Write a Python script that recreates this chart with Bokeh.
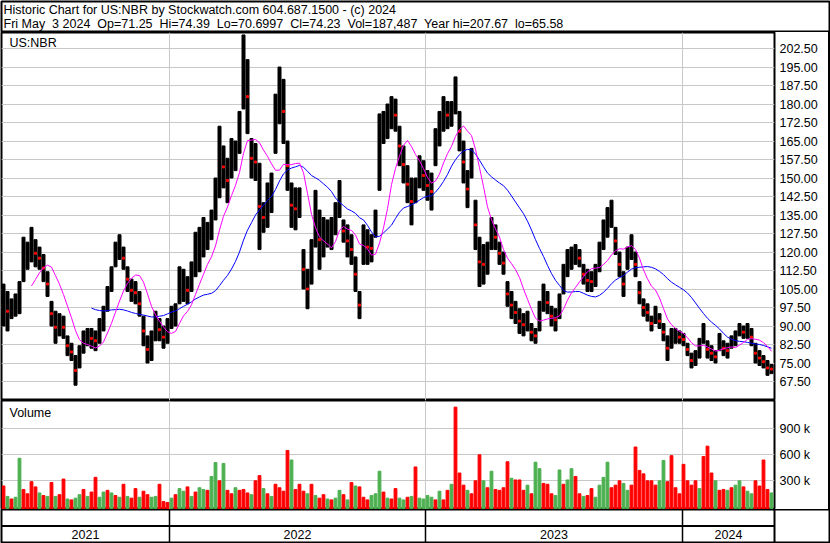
import numpy as np
import pandas as pd
from bokeh.plotting import figure
from bokeh.layouts import column, row
from bokeh.models import Range1d, FixedTicker, PrintfTickFormatter, Label, Div
from bokeh.embed import file_html
from bokeh.resources import INLINE
from bokeh.core.properties import value

# ---------------- data ----------------
header_line_1 = "Historic Chart for US:NBR by Stockwatch.com 604.687.1500 - (c) 2024"
header_line_2 = "Fri May  3 2024  Op=71.25  Hi=74.39  Lo=70.6997  Cl=74.23  Vol=187,487  Year hi=207.67  lo=65.58"
symbol = "US:NBR"
volume_title = "Volume"

# one entry per ~4 trading days, May 2021 .. May 3 2024
high = [107, 104, 101, 103, 108, 126, 124, 130, 125, 122,
        119, 112, 100, 96, 95, 94, 86, 83, 78, 82,
        88, 89, 89, 88, 93, 98, 106, 114, 124, 127,
        122, 114, 109, 108, 104, 94, 86, 88, 96, 93,
        90, 93, 98, 99, 114, 113, 110, 116, 128, 130,
        134, 132, 137, 150, 171, 163, 158, 166, 165, 177,
        208, 198, 166, 164, 156, 140, 148, 152, 184, 195,
        190, 165, 148, 146, 146, 121, 113, 125, 145, 137,
        134, 133, 134, 140, 149, 133, 131, 127, 118, 104,
        131, 129, 127, 137, 176, 177, 180, 183, 182, 171,
        163, 155, 150, 150, 159, 157, 153, 152, 170, 177,
        183, 181, 181, 191, 177, 165, 153, 162, 141, 126,
        123, 124, 134, 131, 124, 120, 108, 104, 100, 97,
        95, 96, 91, 89, 100, 107, 104, 98, 97, 103,
        115, 121, 122, 123, 121, 115, 113, 112, 115, 124,
        133, 138, 141, 130, 120, 112, 122, 127, 120, 108,
        101, 99, 94, 98, 95, 91, 86, 89, 89, 88,
        87, 83, 79, 80, 85, 91, 84, 82, 80, 87,
        84, 83, 86, 88, 91, 90, 91, 89, 83, 80,
        78, 76, 74.39]
low = [90, 88, 93, 94, 95, 108, 113, 116, 114, 113,
       108, 102, 90, 83, 86, 85, 78, 76, 66, 73,
       79, 82, 81, 80, 83, 88, 96, 104, 114, 117,
       113, 104, 100, 99, 94, 82, 75, 76, 84, 84,
       81, 83, 89, 90, 99, 100, 99, 104, 110, 112,
       118, 121, 125, 133, 142, 146, 140, 150, 153, 160,
       178, 168, 150, 149, 121, 128, 130, 136, 160, 172,
       164, 145, 130, 129, 134, 105, 97, 107, 122, 113,
       118, 122, 121, 127, 134, 124, 118, 115, 104, 93,
       115, 115, 116, 126, 145, 164, 166, 170, 169, 155,
       148, 140, 131, 140, 146, 145, 141, 137, 155, 163,
       169, 170, 171, 176, 161, 148, 138, 150, 121, 106,
       107, 111, 121, 121, 115, 111, 98, 93, 91, 87,
       86, 88, 84, 83, 88, 96, 95, 90, 88, 93,
       103, 110, 113, 115, 114, 107, 104, 104, 106, 112,
       121, 126, 130, 119, 110, 102, 113, 117, 110, 99,
       94, 92, 88, 91, 89, 84, 76, 81, 83, 83,
       82, 78, 73, 74, 77, 83, 77, 76, 75, 80,
       78, 77, 81, 82, 86, 85, 85, 82, 75, 74,
       73, 70, 70.70]
volume_k = [240, 120, 90, 110, 560, 200, 150, 290, 230, 160,
            130, 120, 280, 120, 140, 320, 90, 80, 100, 140,
            200, 120, 170, 340, 110, 170, 190, 160, 130, 110,
            260, 120, 100, 210, 110, 180, 140, 110, 120, 260,
            60, 50, 100, 140, 210, 180, 230, 120, 170, 220,
            200, 190, 350, 510, 300, 500, 190, 150, 220, 190,
            200, 160, 140, 300, 360, 210, 150, 120, 260, 220,
            180, 650, 540, 200, 260, 180, 150, 260, 130, 100,
            140, 90, 80, 100, 190, 140, 80, 280, 240, 230,
            110, 80, 130, 150, 410, 170, 100, 90, 210, 100,
            80, 110, 120, 460, 100, 90, 130, 110, 80, 180,
            80, 190, 260, 1150, 390, 250, 190, 150, 300, 600,
            300, 220, 410, 200, 190, 220, 520, 330, 310, 310,
            190, 250, 150, 515, 440, 270, 260, 150, 130, 425,
            260, 310, 440, 350, 150, 120, 130, 210, 110, 250,
            340, 515, 220, 250, 300, 270, 190, 250, 690, 420,
            380, 300, 300, 250, 300, 535, 290, 590, 220, 150,
            490, 300, 250, 300, 210, 580, 700, 390, 300, 190,
            200, 190, 220, 250, 300, 230, 180, 150, 300, 240,
            540, 200, 160]
up_day = [0, 1, 0, 1, 1, 0, 0, 0, 0, 1,
          0, 1, 0, 1, 0, 0, 1, 0, 1, 1,
          0, 1, 0, 0, 1, 1, 0, 1, 0, 1,
          0, 1, 0, 0, 1, 0, 0, 1, 1, 0,
          0, 0, 1, 0, 1, 1, 0, 1, 0, 1,
          1, 0, 1, 1, 0, 1, 0, 0, 1, 0,
          0, 0, 1, 0, 0, 1, 0, 1, 0, 0,
          0, 0, 1, 0, 0, 0, 1, 0, 1, 0,
          0, 1, 0, 1, 1, 0, 1, 0, 1, 0,
          0, 0, 1, 1, 1, 0, 1, 0, 0, 1,
          1, 0, 1, 0, 1, 1, 1, 1, 0, 1,
          0, 0, 1, 0, 0, 0, 1, 0, 0, 0,
          1, 0, 1, 0, 0, 0, 0, 1, 0, 0,
          0, 1, 0, 1, 1, 0, 0, 0, 1, 1,
          0, 1, 1, 0, 0, 1, 0, 0, 1, 1,
          1, 1, 0, 0, 0, 1, 1, 0, 0, 0,
          0, 0, 0, 0, 1, 1, 0, 0, 0, 0,
          0, 0, 0, 0, 1, 0, 0, 0, 1, 0,
          0, 1, 0, 1, 1, 0, 1, 1, 0, 0,
          0, 0, 1]

price_ticks = [67.5, 75.0, 82.5, 90.0, 97.5, 105.0, 112.5, 120.0, 127.5, 135.0,
               142.5, 150.0, 157.5, 165.0, 172.5, 180.0, 187.5, 195.0, 202.5]
volume_ticks = [300000, 600000, 900000]
volume_tick_labels = ["300 k", "600 k", "900 k"]
year_labels = ["2021", "2022", "2023", "2024"]
year_starts = [41.5, 105.5, 169.75]      # entry index where 2022, 2023, 2024 begin
fast_window, slow_window = 8, 23         # moving averages, in entries

# ---------------- styling ----------------
FONT = "Liberation Sans"
FS = "12.5px"
GRID = "#C8C8C8"
MAGENTA = "#FF00FF"
BLUE = "#0000FF"
UP = "#4CB050"
DOWN = "#FF0000"

W = 830
STRIP = 2
AXW = 54
H0, H1, H2, H3 = 32, 368, 109, 34
FRAME_W = W - STRIP - 1 - AXW

hi = np.array(high, dtype=float)
lo = np.array(low, dtype=float)
n = len(hi)
xs = np.arange(n)
mid = (hi + lo) / 2.0
ma_fast = pd.Series(mid).rolling(fast_window).mean().to_numpy()
ma_slow = pd.Series(mid).rolling(slow_window).mean().to_numpy()
down = np.r_[False, mid[1:] < mid[:-1]]
vol = np.array(volume_k, dtype=float) * 1000.0
vcolors = [UP if u else DOWN for u in up_day]

x0, x1 = -0.5, n - 0.25
price_range = Range1d(59.8, 209.0)
vol_range = Range1d(-31000, 1226500)


def make(width, height, xr, yr, yloc=None, mb=(0, 0, 0, 0)):
    f = figure(width=width, height=height, x_range=xr, y_range=yr,
               x_axis_location=None, y_axis_location=yloc,
               output_backend="svg", toolbar_location=None,
               min_border_top=mb[0], min_border_right=mb[1],
               min_border_bottom=mb[2], min_border_left=mb[3])
    f.outline_line_color = "black"
    f.outline_line_width = 2
    f.outline_line_alpha = 1.0
    f.background_fill_color = "white"
    f.border_fill_color = "white"
    f.xgrid.grid_line_color = None
    f.ygrid.grid_line_color = None
    return f


def style_axis(ax):
    ax.axis_line_color = None
    ax.major_tick_line_color = None
    ax.minor_tick_line_color = None
    ax.major_tick_out = 0
    ax.major_tick_in = 0
    ax.major_label_standoff = 5
    ax.major_label_text_font = FONT
    ax.major_label_text_font_size = FS
    ax.major_label_text_color = "black"


def keep_spaces(s):
    return s.replace("  ", "\u00a0 ")


# ---------------- header ----------------
f0 = make(W, H0, Range1d(0, 1), Range1d(0, 1), mb=(1, 1, 0, 1))
for txt, yy in ((header_line_1, 23), (header_line_2, 9)):
    f0.add_layout(Label(x=2, y=yy, x_units="screen", y_units="screen", text=keep_spaces(txt),
                        text_font=FONT, text_font_size=FS, text_color="black",
                        text_baseline="middle"))

# ---------------- price panel ----------------
f1 = make(W - STRIP, H1, Range1d(x0, x1), price_range, yloc="right", mb=(0, AXW, 0, 1))
style_axis(f1.yaxis[0])
f1.yaxis[0].ticker = FixedTicker(ticks=price_ticks)
f1.yaxis[0].formatter = PrintfTickFormatter(format="%.2f")
f1.ygrid.ticker = FixedTicker(ticks=price_ticks)
f1.ygrid.grid_line_color = GRID
f1.xgrid.ticker = FixedTicker(ticks=year_starts)
f1.xgrid.grid_line_color = GRID

f1.vbar(x=xs, top=hi, bottom=lo, width=0.75, color="black")
f1.scatter(x=xs[down], y=mid[down], marker="square", size=2, color=DOWN)
f1.line(xs, ma_slow, color=BLUE, line_width=1)
f1.line(xs, ma_fast, color=MAGENTA, line_width=1)
f1.add_layout(Label(x=8, y=H1 - 3, x_units="screen", y_units="screen", text=symbol,
                    text_font=FONT, text_font_size=FS, text_color="black",
                    text_baseline="top"))

# ---------------- volume panel ----------------
f2 = make(W - STRIP, H2, f1.x_range, vol_range, yloc="right", mb=(0, AXW, 0, 1))
style_axis(f2.yaxis[0])
f2.yaxis[0].ticker = FixedTicker(ticks=volume_ticks)
f2.yaxis[0].major_label_overrides = dict(zip(volume_ticks, volume_tick_labels))
f2.ygrid.ticker = FixedTicker(ticks=volume_ticks)
f2.ygrid.grid_line_color = GRID
f2.xgrid.ticker = FixedTicker(ticks=year_starts)
f2.xgrid.grid_line_color = GRID
f2.vbar(x=xs, top=vol, bottom=vol_range.start, width=0.7, color=vcolors)
f2.add_layout(Label(x=8, y=H2 - 5, x_units="screen", y_units="screen", text=volume_title,
                    text_font=FONT, text_font_size=FS, text_color="black",
                    text_baseline="top"))

# ---------------- year band ----------------
x1_band = x0 + (x1 - x0) * (W - 2) / FRAME_W
f3 = make(W, H3, Range1d(x0, x1_band), Range1d(0, 2), mb=(0, 1, 1, 1))
bounds = [x0] + year_starts + [x1]
centers = [(a + b) / 2 for a, b in zip(bounds[:-1], bounds[1:])]
f3.segment(x0=[x0], y0=[1], x1=[x1], y1=[1], line_color="black", line_width=2)
f3.segment(x0=year_starts, y0=[0] * len(year_starts), x1=year_starts, y1=[2] * len(year_starts),
           line_color="black", line_width=1.5)
f3.segment(x0=[x1], y0=[0], x1=[x1], y1=[2], line_color="black", line_width=2)
f3.text(x=centers, y=[0.5] * len(centers), text=year_labels,
        text_font=value(FONT), text_font_size=value(FS), text_color="black",
        text_align="center", text_baseline="middle")

strip = Div(width=STRIP, height=H1 + H2, margin=(0, 0, 0, 0),
            styles={"background-color": "black"})

layout = column(f0, row(column(f1, f2), strip), f3)
open("out.html", "w").write(file_html(layout, INLINE, "US:NBR"))
